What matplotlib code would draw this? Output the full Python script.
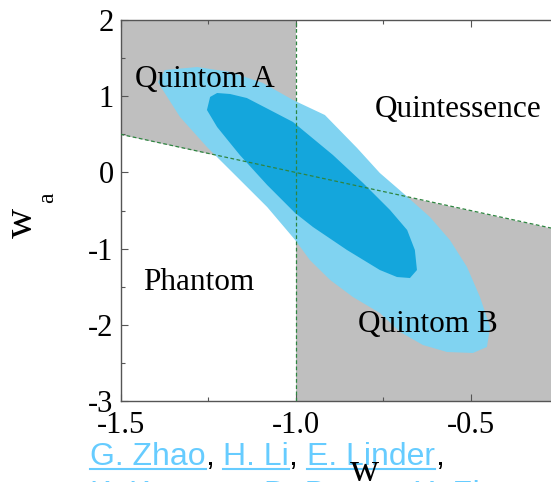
import matplotlib
matplotlib.use("Agg")
import matplotlib.pyplot as plt
from matplotlib.ticker import MultipleLocator
from matplotlib.transforms import IdentityTransform
from matplotlib.lines import Line2D

plt.rcParams['font.family'] = 'Liberation Serif'
plt.rcParams['axes.unicode_minus'] = False

# 95% and 68% contours in (w, w_a)
w_95 = [-1.393, -1.373, -1.281, -1.187, -1.093, -1.007, -0.916, -0.824, -0.759,
        -0.693, -0.616, -0.559, -0.510, -0.473, -0.444, -0.453, -0.493, -0.567,
        -0.636, -0.701, -0.759, -0.836, -0.901, -0.959, -1.001, -1.081, -1.167,
        -1.253, -1.33, -1.379]
wa_95 = [1.186, 1.344, 1.383, 1.318, 1.173, 0.95, 0.753, 0.32, -0.008,
         -0.27, -0.585, -0.887, -1.241, -1.635, -2.029, -2.291, -2.37, -2.357,
         -2.265, -2.094, -1.845, -1.635, -1.412, -1.15, -0.887, -0.454, -0.06,
         0.333, 0.727, 1.081]

w_68 = [-1.244, -1.224, -1.187, -1.139, -1.073, -1.007, -0.893, -0.807, -0.730,
        -0.681, -0.659, -0.653, -0.673, -0.710, -0.759, -0.853, -0.95, -1.001,
        -1.081, -1.159, -1.187, -1.224, -1.253]
wa_68 = [0.99, 1.042, 1.029, 0.976, 0.819, 0.661, 0.228, -0.139, -0.493,
         -0.756, -1.018, -1.281, -1.386, -1.373, -1.281, -1.018, -0.717, -0.533,
         -0.165, 0.228, 0.386, 0.596, 0.819]

# region names and where they sit
regions = ['Quintom A', 'Quintessence', 'Phantom', 'Quintom B']
region_w = [-1.459, -0.773, -1.436, -0.821]
region_wa = [1.121, 0.727, -1.543, -2.094]

# w = -1 crossing, boundary line w_a = -(1 + w)
w_cross = -1.0
slope = -1.0
w_left = [-1.5, -1.0]
w_right = [-1.0, -0.2]

x_ticks = [-1.5, -1.0, -0.5]
x_labels = ['-1.5', '-1.0', '-0.5']
y_ticks = [-3, -2, -1, 0, 1, 2]
y_labels = ['-3', '-2', '-1', '0', '1', '2']

authors = [['G. Zhao', 'H. Li', 'E. Linder'],
           ['K. Koyama', 'D. Bacon', 'X. Zhang']]

W, H = 551, 482
fig = plt.figure(figsize=(W / 100, H / 100), dpi=100)
ax = fig.add_axes([120.5 / W, 1 - 401 / H, 455 / W, 381 / H])

gray = '#bfbfbf'
ax.fill_between(w_left, [-(1 + w) for w in w_left], 2, color=gray, lw=0)
ax.fill_between(w_right, -3, [-(1 + w) for w in w_right], color=gray, lw=0)

ax.fill(w_95, wa_95, color='#80d3f1', lw=0, zorder=2)
ax.fill(w_68, wa_68, color='#14a6dc', lw=0, zorder=3)

ax.axvline(w_cross, color='#2e8540', ls=(0, (3, 2)), lw=0.9, zorder=4)
ax.axline((w_cross, 0), slope=slope, color='#2e8540', ls=(0, (3, 2)), lw=0.9, zorder=4)

for name, x, y in zip(regions, region_w, region_wa):
    ax.text(x, y, name, fontsize=22.5, ha='left', va='baseline', zorder=5)

ax.set_xlim(-1.5, -0.2)
ax.set_ylim(-3, 2)
ax.set_xticks(x_ticks)
ax.set_xticklabels(x_labels)
ax.set_yticks(y_ticks)
ax.set_yticklabels(y_labels)
ax.xaxis.set_minor_locator(MultipleLocator(0.25))
ax.yaxis.set_minor_locator(MultipleLocator(0.5))
ax.tick_params(which='both', direction='in', top=True, right=True,
               color='#555555', width=0.8, labelsize=22)
ax.tick_params(which='major', length=5)
ax.tick_params(which='minor', length=3)
ax.tick_params(axis='x', pad=7)
ax.tick_params(axis='y', pad=5)
for sp in ax.spines.values():
    sp.set_color('#555555')
    sp.set_linewidth(1.0)
ax.set_axisbelow(False)

# y label: w with subscript a
px = IdentityTransform()
fig.text(32, H - 238, 'w', fontsize=30, rotation=90, rotation_mode='anchor',
         ha='left', va='baseline', transform=px)
fig.text(53, H - 203, 'a', fontsize=17, rotation=90, rotation_mode='anchor',
         ha='left', va='baseline', transform=px)

# author line overlay, names underlined
fig.canvas.draw()
renderer = fig.canvas.get_renderer()
blue = '#66ccff'
line_y = [H - 465, H - 503]
for names, y in zip(authors, line_y):
    x = 90
    for i, nm in enumerate(names):
        t = fig.text(x, y, nm, fontsize=23, family='Liberation Sans', color=blue,
                     ha='left', va='baseline', transform=px)
        bb = t.get_window_extent(renderer)
        fig.add_artist(Line2D([bb.x0, bb.x1], [y - 4, y - 4], color=blue, lw=1.5,
                              transform=px))
        x = bb.x1
        c = fig.text(x, y, ', ' if i < len(names) - 1 else ',', fontsize=23,
                     family='Liberation Sans', color='black',
                     ha='left', va='baseline', transform=px)
        x = c.get_window_extent(renderer).x1

# x label drawn last, on top of the overlay
fig.text(350, H - 481, 'w', fontsize=29, ha='left', va='baseline', transform=px)

fig.savefig('out.png', dpi=100)
